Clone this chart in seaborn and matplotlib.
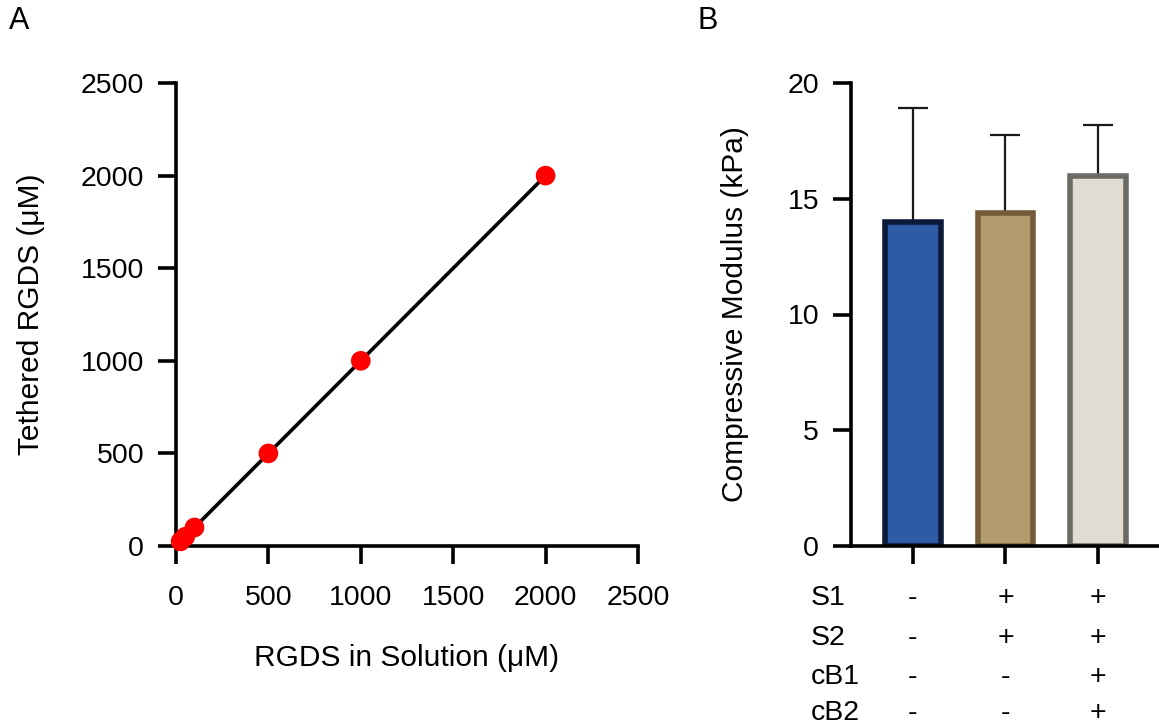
import matplotlib
matplotlib.use("Agg")
import matplotlib.pyplot as plt
import seaborn as sns
import pandas as pd
import numpy as np

# Panel A data
rgds_solution = [25, 50, 100, 500, 1000, 2000]
rgds_tethered = [25, 50, 100, 500, 1000, 2000]

# Panel B data
groups = ["G1", "G2", "G3"]
modulus = [14.0, 14.4, 16.0]
modulus_err = [4.9, 3.35, 2.2]
fill_colors = ["#2E5AA6", "#B39B6D", "#E0DCD2"]
edge_colors = ["#0B1A38", "#735C3A", "#6B6B66"]
row_labels = ["S1", "S2", "cB1", "cB2"]
row_marks = [["-", "+", "+"], ["-", "+", "+"], ["-", "-", "+"], ["-", "-", "+"]]

sns.set_style("ticks")
plt.rcParams['font.family'] = ['Liberation Sans', 'DejaVu Sans']
for k in ("text.color", "axes.labelcolor", "xtick.color", "ytick.color", "axes.edgecolor"):
    plt.rcParams[k] = "black"

TICK_FS = 20.5
LAB_FS = 21.5

fig = plt.figure(figsize=(11.59, 7.27), dpi=100)
axA = fig.add_axes([176/1159, 1-546/727, (638-176)/1159, (546-83)/727])
axB = fig.add_axes([851/1159, 1-546/727, (1159-851)/1159, (546-83)/727])

dfA = pd.DataFrame({"sol": rgds_solution, "teth": rgds_tethered})
sns.lineplot(data=dfA, x="sol", y="teth", ax=axA, color="black", lw=2.6)
sns.scatterplot(data=dfA, x="sol", y="teth", ax=axA, color="red", s=200,
                edgecolor="none", zorder=5, clip_on=False)
axA.set_xlim(0, 2500)
axA.set_ylim(0, 2500)
axA.set_xticks(range(0, 2501, 500))
axA.set_yticks(range(0, 2501, 500))
axA.set_xlabel("RGDS in Solution (μM)", labelpad=24, fontsize=LAB_FS)
axA.set_ylabel("Tethered RGDS (μM)", labelpad=26, fontsize=LAB_FS)

dfB = pd.DataFrame({"g": groups, "m": modulus})
sns.barplot(data=dfB, x="g", y="m", ax=axB, palette=fill_colors, hue="g",
            legend=False, width=0.6, errorbar=None, saturation=1)
for p, ec in zip(axB.patches, edge_colors):
    p.set_edgecolor(ec)
    p.set_linewidth(4)
axB.errorbar(range(len(groups)), modulus, yerr=[np.zeros(len(groups)), modulus_err],
             fmt="none", ecolor="#1a1a1a", elinewidth=1.6, capsize=11, capthick=1.6, zorder=0)
axB.set_xlim(-0.67, 2.66)
axB.set_ylim(0, 20)
axB.set_yticks(range(0, 21, 5))
axB.set_xticks(range(len(groups)))
axB.set_xticklabels([])
axB.set_xlabel("")
axB.set_ylabel("Compressive Modulus (kPa)", labelpad=28, fontsize=LAB_FS)

for ax in (axA, axB):
    sns.despine(ax=ax)
    for s in ("left", "bottom"):
        ax.spines[s].set_linewidth(2.6)
    ax.tick_params(width=2.6, length=13, labelsize=TICK_FS)
    ax.tick_params(axis="x", pad=15)
    ax.tick_params(axis="y", pad=10)

row_y = [598, 638, 677, 713]
for lab, marks, y in zip(row_labels, row_marks, row_y):
    fy = 1 - y/727
    fig.text(811/1159, fy, lab, ha="left", va="center", fontsize=TICK_FS)
    for i, mk in enumerate(marks):
        xd = axB.transData.transform((i, 0))[0]
        fig.text(xd/1159, fy, mk, ha="center", va="center", fontsize=TICK_FS)

fig.text(9/1159, 1-21/727, "A", fontsize=22, va="center", ha="left")
fig.text(698/1159, 1-21/727, "B", fontsize=22, va="center", ha="left")

fig.savefig("out.png", dpi=100)
